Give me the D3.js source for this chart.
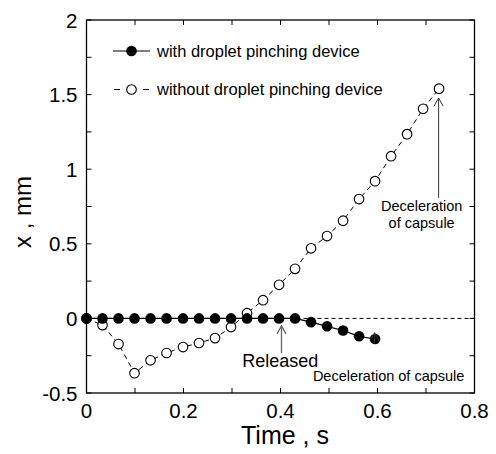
<!DOCTYPE html>
<html>
<head>
<meta charset="utf-8">
<script src="https://cdn.jsdelivr.net/npm/d3@7"></script>
<style>
  body { margin: 0; background: #fff; }
  svg { font-family: "Liberation Sans", Arial, sans-serif; }
</style>
</head>
<body>
<svg id="chart" width="496" height="454"></svg>
<script>
// time of each frame, s
let times = [0, 0.033, 0.066, 0.099, 0.132, 0.165, 0.199, 0.232, 0.265, 0.298,
             0.331, 0.364, 0.397, 0.430, 0.463, 0.496, 0.529, 0.562, 0.595,
             0.628, 0.661, 0.694, 0.727];

// x, mm  (with droplet pinching device) -- stops at 0.6 s
let withDevice = [0, 0, 0, 0, 0, 0, 0, 0, 0, 0, 0, 0, 0, 0,
                  -0.025, -0.053, -0.081, -0.12, -0.138];

// x, mm  (without droplet pinching device)
let withoutDevice = [0, -0.045, -0.172, -0.367, -0.281, -0.232, -0.192, -0.165,
                     -0.132, -0.058, 0.035, 0.122, 0.225, 0.332, 0.47, 0.552,
                     0.655, 0.80, 0.92, 1.087, 1.235, 1.405, 1.54];

let seriesNames = ['with droplet pinching device', 'without droplet pinching device'];
let xTicks = [0, 0.2, 0.4, 0.6, 0.8];
let yTicks = [-0.5, 0, 0.5, 1, 1.5, 2];

let svg = d3.select('#chart');
let pL = 86.5, pR = 474.5, pT = 20, pB = 393;

let x = d3.scaleLinear().domain([0, 0.8]).range([pL, pR]);
let y = d3.scaleLinear().domain([-0.5, 2]).range([pB, pT]);

let tickLen = 5;

// zero reference line
svg.append('line')
    .attr('x1', x(0)).attr('x2', x(0.8))
    .attr('y1', y(0)).attr('y2', y(0))
    .attr('stroke', '#000').attr('stroke-width', 1)
    .attr('stroke-dasharray', '4,3');

// minor + major ticks on all four sides
let xMinor = d3.range(0, 0.8001, 0.1),
    yMinor = d3.range(-0.5, 2.0001, 0.25);

let tickG = svg.append('g').attr('stroke', '#000').attr('stroke-width', 1);
xMinor.forEach(function(t) {
    tickG.append('line').attr('x1', x(t)).attr('x2', x(t))
	.attr('y1', pB).attr('y2', pB - tickLen);
    tickG.append('line').attr('x1', x(t)).attr('x2', x(t))
	.attr('y1', pT).attr('y2', pT + tickLen);
});
yMinor.forEach(function(v) {
    tickG.append('line').attr('x1', pL).attr('x2', pL + tickLen)
	.attr('y1', y(v)).attr('y2', y(v));
    tickG.append('line').attr('x1', pR).attr('x2', pR - tickLen)
	.attr('y1', y(v)).attr('y2', y(v));
});

// frame
svg.append('rect')
    .attr('x', pL).attr('y', pT)
    .attr('width', pR - pL).attr('height', pB - pT)
    .attr('fill', 'none').attr('stroke', '#000').attr('stroke-width', 1.3);

// tick labels
svg.selectAll('.xlab')
    .data(xTicks).enter().append('text')
    .attr('class', 'xlab')
    .attr('x', (d) => x(d))
    .attr('y', 418)
    .attr('text-anchor', 'middle')
    .attr('font-size', 20.5)
    .text((d) => d);

svg.selectAll('.ylab')
    .data(yTicks).enter().append('text')
    .attr('class', 'ylab')
    .attr('x', pL - 9)
    .attr('y', (d) => y(d) + 7.5)
    .attr('text-anchor', 'end')
    .attr('font-size', 20.5)
    .text((d) => d);

// axis titles
svg.append('text')
    .attr('x', 285).attr('y', 444)
    .attr('text-anchor', 'middle')
    .attr('font-size', 25)
    .text('Time , s');

svg.append('text')
    .attr('transform', 'translate(' + 31 + ',' + 212 + ') rotate(-90)')
    .attr('text-anchor', 'middle')
    .attr('font-size', 24)
    .text('x , mm');

// series
let dataWith = withDevice.map((v, i) => ({ time: times[i], value: v }));
let dataWithout = withoutDevice.map((v, i) => ({ time: times[i], value: v }));

let lineFunc = d3.line()
    .x(function(d) { return x(d.time); })
    .y(function(d) { return y(d.value); });

svg.append('path')
    .datum(dataWithout)
    .attr('d', lineFunc)
    .attr('fill', 'none').attr('stroke', '#000').attr('stroke-width', 1)
    .attr('stroke-dasharray', '5,4');

svg.selectAll('.open')
    .data(dataWithout).enter().append('circle')
    .attr('class', 'open')
    .attr('cx', (d) => x(d.time))
    .attr('cy', (d) => y(d.value))
    .attr('r', 4.8)
    .attr('fill', '#fff').attr('stroke', '#000').attr('stroke-width', 1.1);

svg.append('path')
    .datum(dataWith)
    .attr('d', lineFunc)
    .attr('fill', 'none').attr('stroke', '#000').attr('stroke-width', 1.2);

svg.selectAll('.filled')
    .data(dataWith).enter().append('circle')
    .attr('class', 'filled')
    .attr('cx', (d) => x(d.time))
    .attr('cy', (d) => y(d.value))
    .attr('r', 5.3)
    .attr('fill', '#000');

// legend
let legend = svg.append('g').attr('class', 'legend');
let legRows = [51, 89.5];
legend.append('line')
    .attr('x1', 113).attr('x2', 150).attr('y1', legRows[0]).attr('y2', legRows[0])
    .attr('stroke', '#000').attr('stroke-width', 1.2);
legend.append('circle')
    .attr('cx', 131.5).attr('cy', legRows[0]).attr('r', 5.3).attr('fill', '#000');
legend.append('line')
    .attr('x1', 114).attr('x2', 120).attr('y1', legRows[1]).attr('y2', legRows[1])
    .attr('stroke', '#000').attr('stroke-width', 1);
legend.append('line')
    .attr('x1', 143).attr('x2', 149).attr('y1', legRows[1]).attr('y2', legRows[1])
    .attr('stroke', '#000').attr('stroke-width', 1);
legend.append('circle')
    .attr('cx', 131.5).attr('cy', legRows[1]).attr('r', 4.8)
    .attr('fill', '#fff').attr('stroke', '#000').attr('stroke-width', 1.1);
legend.selectAll('text')
    .data(seriesNames).enter().append('text')
    .attr('x', 157)
    .attr('y', (d, i) => legRows[i] + 5.8)
    .attr('font-size', 16.5)
    .text((d) => d);

// annotations: arrows (data coords) and their labels
function arrow(t, yTip, yEnd, color, width) {
    let ax = x(t), ty = y(yTip), by = y(yEnd);
    let g = svg.append('g').attr('stroke', color).attr('stroke-width', width)
	.attr('fill', 'none');
    g.append('line').attr('x1', ax).attr('x2', ax).attr('y1', ty).attr('y2', by);
    g.append('path')
	.attr('d', 'M' + (ax - 4.5) + ',' + (ty + 8) + 'L' + ax + ',' + ty +
	      'L' + (ax + 4.5) + ',' + (ty + 8));
}

arrow(0.402, -0.05, -0.232, '#666', 1.3);
svg.append('text')
    .attr('x', x(0.321)).attr('y', 366.5)
    .attr('font-size', 18)
    .text('Released');

arrow(0.594, -0.096, -0.167, '#333', 1);
svg.append('text')
    .attr('x', x(0.623)).attr('y', 380.5)
    .attr('text-anchor', 'middle')
    .attr('font-size', 14.5)
    .text('Deceleration of capsule');

arrow(0.726, 1.477, 0.807, '#333', 1);
svg.append('text')
    .attr('text-anchor', 'middle')
    .attr('font-size', 14.5)
    .selectAll('tspan')
    .data(['Deceleration', 'of capsule']).enter()
    .append('tspan')
    .attr('x', x(0.691))
    .attr('y', (d, i) => 210.5 + i * 17.7)
    .text((d) => d);
</script>
</body>
</html>
